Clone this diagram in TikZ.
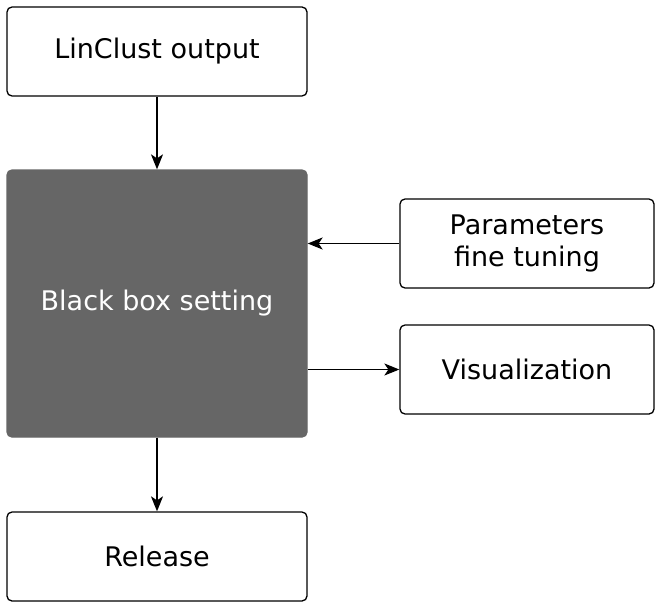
\documentclass[tikz,border=0pt]{standalone}
\usepackage{fontspec}
\setmainfont{DejaVu Sans}
\usetikzlibrary{arrows.meta}
\begin{document}
\begin{tikzpicture}[x=1pt,y=-1pt,
  box/.style={draw=black,line width=1.3pt,rounded corners=5pt,fill=white,minimum width=300pt,minimum height=89pt,inner sep=0pt,align=center,font=\fontsize{27}{32}\selectfont},
  sidebox/.style={box,minimum width=254pt},
  dark/.style={box,fill=black!60,draw=black!60,text=white,minimum height=267pt},
  conn/.style={line width=1.3pt,-{Stealth[length=15pt,width=12pt,inset=4pt]}}]
\useasboundingbox (0,0) rectangle (660,607);
\node[box] (lin) at (157,51.5) {LinClust output};
\node[dark] (bb) at (157,303.5) {Black box setting};
\node[sidebox] (par) at (527,243.5) {Parameters\\fine tuning};
\node[sidebox] (vis) at (527,369.5) {Visualization};
\node[box] (rel) at (157,556.5) {Release};
\draw[conn] (lin.south) -- (bb.north);
\draw[conn] (par.west) -- (bb.east |- par.west);
\draw[conn] (bb.east |- vis.west) -- (vis.west);
\draw[conn] (bb.south) -- (rel.north);
\end{tikzpicture}
\end{document}
